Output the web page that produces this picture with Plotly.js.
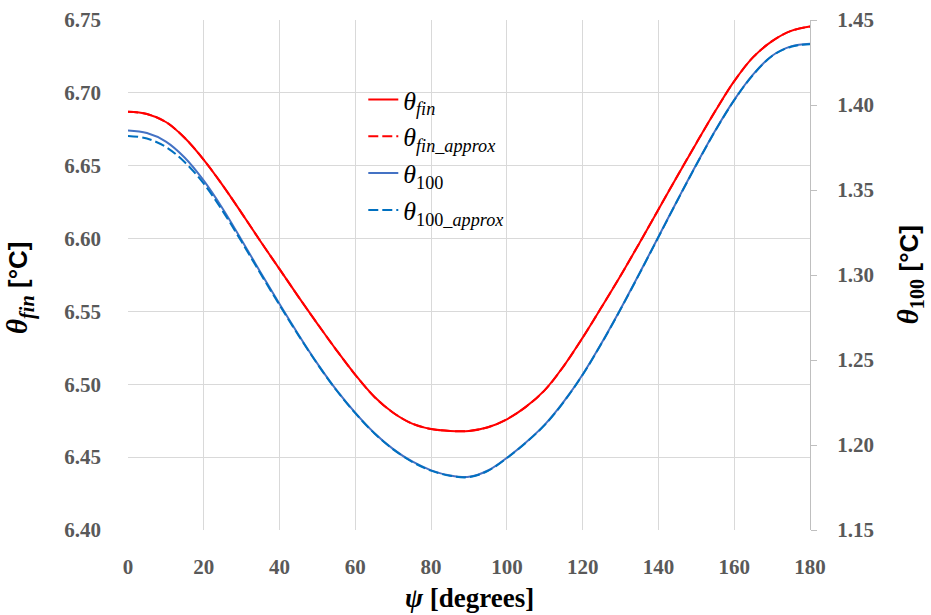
<!DOCTYPE html>
<html>
<head>
<meta charset="utf-8">
<script src="https://cdn.plot.ly/plotly-3.0.1.min.js"></script>
<style>html,body{margin:0;padding:0;background:#fff;}#chart{width:931px;height:615px;}</style>
</head>
<body>
<div id="chart"></div>
<script>
const psi = [0, 5, 10, 15, 20, 25, 30, 35, 40, 45, 50, 55, 60, 65, 70, 75, 80, 85, 90,
             95, 100, 105, 110, 115, 120, 125, 130, 135, 140, 145, 150, 155, 160, 165, 170, 175, 180];
const thetaFin = [6.6870, 6.6855, 6.6800, 6.6690, 6.6540, 6.6365, 6.6175, 6.5980, 6.5790, 6.5600, 6.5415, 6.5235, 6.5065, 6.4915, 6.4805, 6.4730, 6.4693, 6.4680, 6.4680,
                  6.4705, 6.4760, 6.4845, 6.4960, 6.5125, 6.5320, 6.5530, 6.5745, 6.5970, 6.6200, 6.6430, 6.6655, 6.6875, 6.7080, 6.7245, 6.7355, 6.7425, 6.7455];
const thetaFinApprox = [6.6870, 6.6855, 6.6800, 6.6690, 6.6540, 6.6365, 6.6175, 6.5980, 6.5790, 6.5600, 6.5415, 6.5235, 6.5065, 6.4915, 6.4805, 6.4730, 6.4693, 6.4680, 6.4680,
                        6.4705, 6.4760, 6.4845, 6.4960, 6.5125, 6.5320, 6.5530, 6.5745, 6.5970, 6.6200, 6.6430, 6.6655, 6.6875, 6.7080, 6.7245, 6.7355, 6.7425, 6.7455];
const theta100 = [1.3850, 1.3835, 1.3785, 1.3690, 1.3555, 1.3390, 1.3205, 1.3015, 1.2829, 1.2649, 1.2479, 1.2324, 1.2189, 1.2071, 1.1976, 1.1903, 1.1851, 1.1821, 1.1813,
                  1.1850, 1.1925, 1.2015, 1.2120, 1.2255, 1.2415, 1.2600, 1.2800, 1.3010, 1.3225, 1.3440, 1.3650, 1.3850, 1.4030, 1.4180, 1.4290, 1.4345, 1.4360];
const theta100Approx = [1.3818, 1.3803, 1.3753, 1.3663, 1.3537, 1.3376, 1.3195, 1.3007, 1.2823, 1.2645, 1.2476, 1.2322, 1.2187, 1.2069, 1.1974, 1.1901, 1.1849, 1.1819, 1.1811,
                        1.1848, 1.1923, 1.2013, 1.2118, 1.2253, 1.2413, 1.2598, 1.2798, 1.3008, 1.3223, 1.3438, 1.3648, 1.3848, 1.4028, 1.4178, 1.4288, 1.4343, 1.4358];
const leftTicks = [6.40, 6.45, 6.50, 6.55, 6.60, 6.65, 6.70, 6.75];
const rightTicks = [1.15, 1.20, 1.25, 1.30, 1.35, 1.40, 1.45];
const xTicks = [0, 20, 40, 60, 80, 100, 120, 140, 160, 180];

const serif = '"Liberation Serif", "DejaVu Serif", serif';
const tickFont = {family: serif, size: 21, color: '#595959', weight: 'bold'};
const xTitleFont = {family: serif, size: 27, color: '#000', weight: 'bold'};
const yTitleFont = {family: serif, size: 29, color: '#000', weight: 'bold'};
const sans = '<span style="font-family:Liberation Sans,Arial,sans-serif;font-size:26px">[°C]</span>';

const traces = [
  {x: psi, y: thetaFin, name: '<i>θ<sub>fin</sub></i>', type: 'scatter', mode: 'lines',
   line: {color: '#FF0000', width: 2, shape: 'spline', smoothing: 1}},
  {x: psi, y: thetaFinApprox, name: '<i>θ<sub>fin_approx</sub></i>', type: 'scatter', mode: 'lines',
   line: {color: '#FF0000', width: 2, dash: '10px,4px', shape: 'spline', smoothing: 1}},
  {x: psi, y: theta100, name: '<i>θ</i><sub>100</sub>', type: 'scatter', mode: 'lines', yaxis: 'y2',
   line: {color: '#4472C4', width: 2, shape: 'spline', smoothing: 1}},
  {x: psi, y: theta100Approx, name: '<i>θ</i><sub>100<i>_approx</i></sub>', type: 'scatter', mode: 'lines', yaxis: 'y2',
   line: {color: '#0070C0', width: 2, dash: '10px,4px', shape: 'spline', smoothing: 1}}
];

const layout = {
  width: 931, height: 615,
  margin: {l: 128, r: 121, t: 20, b: 85},
  paper_bgcolor: '#fff', plot_bgcolor: '#fff',
  showlegend: true,
  legend: {x: 0.345, y: 0.89, xanchor: 'left', yanchor: 'top', bgcolor: 'rgba(0,0,0,0)',
           font: {family: serif, size: 26, color: '#000'}, itemwidth: 30, tracegroupgap: 0},
  xaxis: {range: [0, 180], tickvals: xTicks, ticktext: xTicks.map(String),
          showgrid: true, gridcolor: '#D9D9D9', gridwidth: 1, zeroline: false, showline: false,
          ticks: '', ticklabelstandoff: 22, tickfont: tickFont, automargin: false},
  xaxis2: {range: [0, 180], overlaying: 'x', side: 'top', showline: true, linecolor: '#000', linewidth: 1,
           showgrid: false, zeroline: false, showticklabels: false, ticks: '', automargin: false},
  yaxis: {range: [6.40, 6.75], tickvals: leftTicks, ticktext: leftTicks.map(v => v.toFixed(2)),
          showgrid: true, gridcolor: '#D9D9D9', gridwidth: 1, zeroline: false, showline: false,
          ticks: '', ticklabelstandoff: 26, tickfont: tickFont, automargin: false},
  yaxis2: {range: [1.15, 1.45], tickvals: rightTicks, ticktext: rightTicks.map(v => v.toFixed(2)),
           overlaying: 'y', side: 'right', showgrid: false, zeroline: false,
           showline: true, linecolor: '#BFBFBF', linewidth: 1,
           ticks: 'outside', ticklen: 6, tickcolor: '#BFBFBF', ticklabelstandoff: 16,
           tickfont: tickFont, automargin: false},
  annotations: [
    {text: '<i>ψ</i> [degrees]', xref: 'paper', yref: 'paper', x: 0.5, y: -0.133,
     xanchor: 'center', yanchor: 'middle', showarrow: false, font: xTitleFont},
    {text: '<i>θ<sub>fin</sub></i> ' + sans, xref: 'paper', yref: 'paper', x: -0.158, y: 0.475,
     xanchor: 'center', yanchor: 'middle', textangle: -90, showarrow: false, font: yTitleFont},
    {text: '<i>θ</i><sub>100</sub> ' + sans, xref: 'paper', yref: 'paper', x: 1.147, y: 0.5,
     xanchor: 'center', yanchor: 'middle', textangle: -90, showarrow: false, font: yTitleFont}
  ]
};

Plotly.newPlot('chart', traces, layout, {displayModeBar: false, staticPlot: true});
</script>
</body>
</html>
